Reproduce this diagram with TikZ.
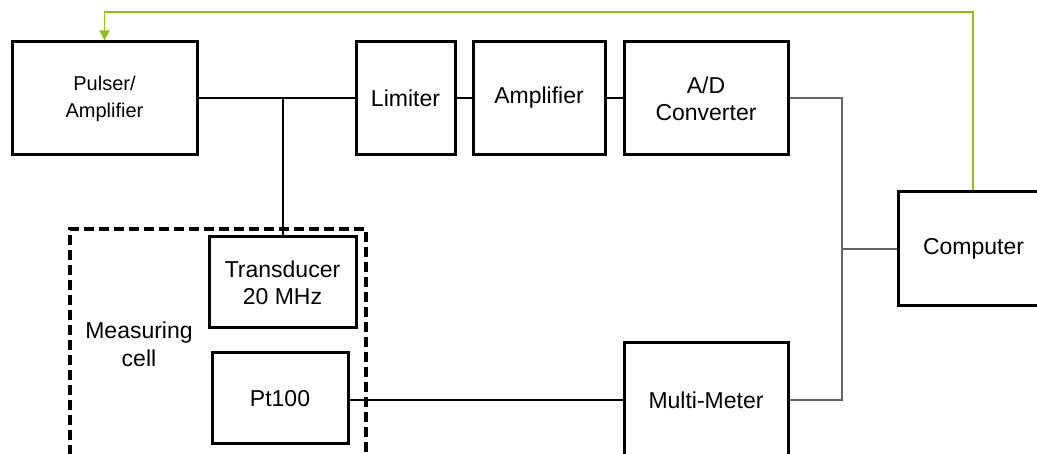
\documentclass[tikz,border=0pt]{standalone}
\usepackage{fontspec}
\setmainfont{Liberation Sans}
\usepackage{tikz}
\usetikzlibrary{arrows.meta, positioning, calc}
\usepackage{xcolor}
\definecolor{loopgreen}{RGB}{146,188,32}
\definecolor{wiregray}{RGB}{100,100,100}

\tikzset{
  unit/.style={draw=black, line width=3pt, inner sep=0pt, align=center,
               font=\fontsize{23}{27}\selectfont},
  wire/.style={draw=black, line width=2.5pt},
  datawire/.style={draw=wiregray, line width=1.4pt},
  ctrlwire/.style={draw=loopgreen, line width=1.6pt,
                   -{Triangle[length=10pt,width=10pt]}}
}

\begin{document}
\begin{tikzpicture}[x=1pt, y=-1pt]
    \clip (0,0) rectangle (1037,454);
    \fill[white] (0,0) rectangle (1037,454);

    % measuring cell
    \draw[line width=3.4pt, dash pattern=on 10pt off 5pt] (70,470) |- (366,229) -- (366,470);
    \node[align=center, font=\fontsize{23}{28}\selectfont] (celllabel) at (139,344) {Measuring\\cell};

    % units
    \node[unit, minimum width=185pt, minimum height=113pt,
          font=\fontsize{20}{27}\selectfont] (pulser) at (104.5,98.5) {Pulser/\\Amplifier};
    \node[unit, minimum width=99pt, minimum height=113pt] (limiter) at (405.5,98.5) {Limiter};
    \node[unit, minimum width=132pt, minimum height=113pt] (amp) at (539,98) {Amplifier};
    \node[unit, minimum width=164pt, minimum height=113pt] (adc) at (706,98.5) {A/D\\Converter};
    \node[unit, minimum width=160pt, minimum height=114pt, text width=150pt,
          align=left] (pc) at (978,249) {\hspace*{20pt}Computer};
    \node[unit, minimum width=164pt, minimum height=114pt] (meter) at (706,400) {Multi-Meter};
    \node[unit, minimum width=147pt, minimum height=91pt] (trans) at (282.5,282.5) {Transducer\\20 MHz};
    \node[unit, minimum width=136pt, minimum height=91pt] (pt) at (280,398.5) {Pt100};

    % signal path
    \coordinate (tap) at (283,98);
    \coordinate (bus) at (842,249);
    \coordinate (ctrl) at (973,12);
    \draw[wire] (pulser.east |- tap) -- (limiter.west |- tap);
    \draw[wire] (tap) -- (trans.north -| tap);
    \draw[wire] (limiter.east |- tap) -- (amp.west |- tap);
    \draw[wire] (amp.east |- tap) -- (adc.west |- tap);
    \draw[wire] (pt.east |- meter) -- (meter.west);

    % data to computer
    \draw[datawire] (adc.east |- tap) -| (bus) |- (meter.east);
    \draw[datawire] (bus) -- (pc.west);

    % control loop
    \draw[ctrlwire] (pc.north -| ctrl) -- (ctrl) -| (pulser.north);
  \end{tikzpicture}
\end{document}
